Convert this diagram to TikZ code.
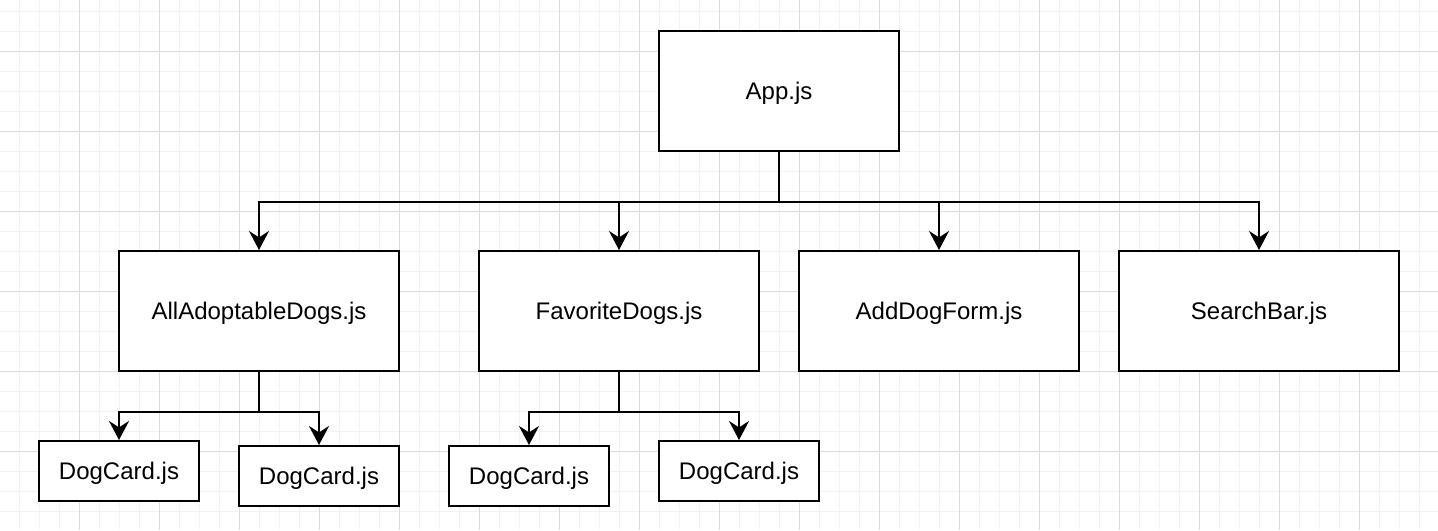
\documentclass[tikz,border=0pt]{standalone}
\usepackage{fontspec}
\setmainfont{Liberation Sans}
\usetikzlibrary{arrows.meta}

\begin{document}
\begin{tikzpicture}[x=0.5pt,y=-0.5pt,
  comp/.style={draw,line width=1pt,fill=white,inner sep=0pt,
    text height=9pt,text depth=0.5pt,
    minimum width=140pt,minimum height=60pt,font=\fontsize{12}{14}\selectfont},
  card/.style={comp,minimum width=80pt,minimum height=30pt},
  link/.style={line width=1pt,-{Stealth[length=9.5pt,width=10pt,inset=3.2pt]}}]
\useasboundingbox (0,0) rectangle (1438,530);
\fill[white] (0,0) rectangle (1438,530);
% grid
\foreach \x in {-1,19,...,1439} {
\draw[black!5,line width=0.5pt] (\x,0) -- (\x,530);
}
\foreach \y in {-9,11,...,531} {
\draw[black!5,line width=0.5pt] (0,\y) -- (1438,\y);
}
\foreach \x in {-1,79,...,1439} {
\draw[black!14,line width=0.5pt] (\x,0) -- (\x,530);
}
\foreach \y in {-29,51,...,531} {
\draw[black!14,line width=0.5pt] (0,\y) -- (1438,\y);
}
\node[comp,minimum width=120pt] (app) at (779,91) {App.js};
\node[comp] (alldogs) at (259,311) {AllAdoptableDogs.js};
\node[comp] (favdogs) at (619,311) {FavoriteDogs.js};
\node[comp] (addform) at (939,311) {AddDogForm.js};
\node[comp] (search) at (1259,311) {SearchBar.js};
\node[card] (card1) at (119,471) {DogCard.js};
\node[card] (card2) at (319,476) {DogCard.js};
\node[card] (card3) at (529,476) {DogCard.js};
\node[card] (card4) at (739,471) {DogCard.js};
\foreach \n in {alldogs,favdogs,addform,search} {
\draw[link] (app.south) -- ++(0,50) -| (\n.north);
}
\draw[link] (alldogs.south) -- ++(0,40) -| (card1.north);
\draw[link] (alldogs.south) -- ++(0,40) -| (card2.north);
\draw[link] (favdogs.south) -- ++(0,40) -| (card3.north);
\draw[link] (favdogs.south) -- ++(0,40) -| (card4.north);
\end{tikzpicture}
\end{document}
